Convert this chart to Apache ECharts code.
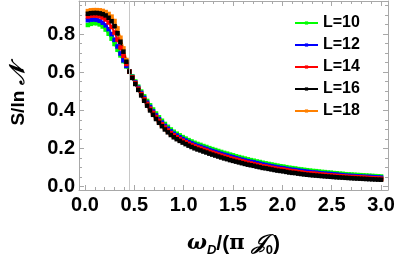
<!DOCTYPE html>
<html><head><meta charset="utf-8">
<script src="https://cdn.jsdelivr.net/npm/echarts@6/dist/echarts.min.js"></script>
<style>html,body{margin:0;padding:0;background:#fff}#c{width:399px;height:262px}</style>
</head><body><div id="c"></div>
<script>
const omega = [0.03,0.06,0.09,0.12,0.15,0.18,0.21,0.24,0.27,0.30,0.33,0.36,0.39,0.42,0.45,
0.48,0.51,0.54,0.57,0.60,0.63,0.66,0.69,0.72,0.75,0.78,0.81,0.84,0.87,0.90,0.93,0.96,0.99,1.02,1.05,
1.08,1.11,1.14,1.17,1.20,1.23,1.26,1.29,1.32,1.35,1.38,1.41,1.44,1.47,1.50,1.53,1.56,1.59,1.62,1.65,
1.68,1.71,1.74,1.77,1.80,1.83,1.86,1.89,1.92,1.95,1.98,2.01,2.04,2.07,2.10,2.13,2.16,2.19,2.22,2.25,
2.28,2.31,2.34,2.37,2.40,2.43,2.46,2.49,2.52,2.55,2.58,2.61,2.64,2.67,2.70,2.73,2.76,2.79,2.82,2.85,
2.88,2.91,2.94,2.97,3.00];
const L10 = [0.848,0.854,0.858,0.857,0.851,0.840,0.824,0.802,0.776,0.748,0.718,0.688,0.658,0.630,0.605,
0.578,0.551,0.524,0.498,0.473,0.449,0.426,0.404,0.383,0.363,
0.345,0.328,0.313,0.299,0.287,0.277,0.268,0.259,0.251,0.243,
0.236,0.229,0.223,0.218,0.212,0.207,0.201,0.196,0.191,0.186,
0.181,0.176,0.172,0.167,0.163,0.158,0.154,0.150,0.146,0.142,
0.138,0.135,0.131,0.128,0.124,0.121,0.118,0.115,0.112,0.109,
0.106,0.104,0.101,0.098,0.096,0.094,0.091,0.089,0.087,0.085,
0.083,0.081,0.080,0.078,0.076,0.075,0.073,0.072,0.070,0.069,
0.067,0.066,0.064,0.063,0.062,0.061,0.060,0.059,0.058,0.057,
0.056,0.055,0.054,0.053,0.052];
const L12 = [0.873,0.876,0.877,0.875,0.870,0.860,0.846,0.826,0.800,0.770,0.735,0.698,0.662,0.633,0.604,
0.575,0.546,0.518,0.491,0.465,0.440,0.417,0.394,0.373,0.353,
0.335,0.318,0.303,0.289,0.277,0.267,0.258,0.249,0.241,0.233,
0.226,0.219,0.213,0.208,0.202,0.197,0.191,0.186,0.181,0.176,
0.171,0.166,0.162,0.157,0.153,0.148,0.144,0.140,0.136,0.132,
0.129,0.126,0.122,0.119,0.115,0.112,0.109,0.106,0.103,0.100,
0.097,0.095,0.092,0.089,0.087,0.086,0.083,0.081,0.079,0.077,
0.075,0.073,0.072,0.070,0.068,0.067,0.066,0.065,0.063,0.062,
0.060,0.059,0.057,0.056,0.055,0.054,0.053,0.052,0.051,0.050,
0.050,0.049,0.048,0.047,0.046];
const L14 = [0.893,0.897,0.898,0.897,0.894,0.887,0.877,0.861,0.838,0.808,0.771,0.729,0.686,0.643,0.603,
0.573,0.543,0.513,0.485,0.458,0.433,0.408,0.386,0.364,0.344,
0.326,0.309,0.294,0.280,0.268,0.258,0.249,0.240,0.232,0.224,
0.217,0.210,0.204,0.199,0.193,0.188,0.182,0.177,0.172,0.167,
0.162,0.157,0.153,0.148,0.144,0.140,0.136,0.132,0.128,0.124,
0.120,0.117,0.113,0.110,0.106,0.104,0.101,0.098,0.095,0.092,
0.090,0.088,0.085,0.082,0.080,0.078,0.075,0.073,0.071,0.069,
0.068,0.067,0.066,0.064,0.062,0.061,0.059,0.058,0.056,0.055,
0.054,0.053,0.051,0.050,0.049,0.049,0.048,0.047,0.046,0.045,
0.044,0.043,0.042,0.041,0.040];
const L16 = [0.907,0.910,0.911,0.911,0.909,0.905,0.898,0.886,0.868,0.842,0.805,0.760,0.708,0.655,0.603,
0.570,0.538,0.507,0.478,0.450,0.424,0.399,0.376,0.354,0.334,
0.316,0.299,0.284,0.270,0.258,0.248,0.239,0.230,0.222,0.214,
0.207,0.200,0.194,0.189,0.183,0.178,0.172,0.167,0.162,0.157,
0.152,0.147,0.143,0.138,0.134,0.130,0.126,0.122,0.118,0.114,
0.111,0.108,0.104,0.101,0.097,0.095,0.092,0.089,0.086,0.083,
0.081,0.079,0.076,0.073,0.071,0.070,0.067,0.065,0.063,0.061,
0.0595,0.058,0.0567,0.0554,0.0541,0.0528,0.0516,0.0504,0.0492,0.048,
0.047,0.046,0.045,0.044,0.043,0.042,0.0412,0.0404,0.0396,0.0388,
0.038,0.0372,0.0364,0.0357,0.035];
const L18 = [0.921,0.925,0.926,0.926,0.925,0.922,0.916,0.906,0.892,0.869,0.830,0.781,0.725,0.664,0.602,
0.572,0.541,0.511,0.483,0.456,0.430,0.406,0.383,0.361,0.341,
0.323,0.306,0.291,0.277,0.265,0.255,0.246,0.237,0.229,0.221,
0.214,0.207,0.201,0.196,0.190,0.185,0.179,0.174,0.169,0.164,
0.159,0.154,0.150,0.145,0.141,0.137,0.133,0.129,0.125,0.121,
0.118,0.115,0.111,0.108,0.104,0.101,0.098,0.095,0.092,0.089,
0.087,0.085,0.082,0.079,0.077,0.076,0.073,0.071,0.069,0.067,
0.066,0.064,0.063,0.061,0.059,0.058,0.057,0.056,0.054,0.053,
0.052,0.051,0.049,0.048,0.047,0.0465,0.046,0.045,0.044,0.043,
0.042,0.041,0.040,0.039,0.038];

const seriesNames = ['L=10','L=12','L=14','L=16','L=18'];
const seriesColors = ['#00ff00','#0000ff','#ff0000','#000000','#ff8000'];
const xMajorTicks = [0,0.5,1,1.5,2,2.5,3];
const xMinorTicks = [0.1,0.2,0.3,0.4,0.6,0.7,0.8,0.9,1.1,1.2,1.3,1.4,1.6,1.7,1.8,1.9,2.1,2.2,2.3,2.4,2.6,2.7,2.8,2.9];
const yMajorTicks = [0,0.2,0.4,0.6,0.8];
const yMinorTicks = [0.05,0.1,0.15,0.25,0.3,0.35,0.45,0.5,0.55,0.65,0.7,0.75,0.85,0.9,0.95];
const refLine = 0.45;
const xRange = [-0.06, 3.07];
const yRange = [-0.019, 0.974];

const frameColor = '#a8a8a8';
const font = 'Liberation Sans';

function xAx(pos, ticks, len, withLabel, withLine) {
  return {
    type:'value', position: pos, min: xRange[0], max: xRange[1],
    axisLine:{show: withLine, onZero:false, lineStyle:{color: frameColor, width:1}},
    axisTick:{show:true, inside:true, length: len, customValues: ticks, lineStyle:{color: frameColor}},
    axisLabel:{show: withLabel, customValues: ticks, margin:5, formatter: v => v.toFixed(1),
      fontFamily: font, fontWeight:'bold', fontSize:20, color:'#000'},
    splitLine:{show:false}
  };
}
function yAx(pos, ticks, len, withLabel, withLine) {
  return {
    type:'value', position: pos, min: yRange[0], max: yRange[1],
    axisLine:{show: withLine, onZero:false, lineStyle:{color: frameColor, width:1}},
    axisTick:{show:true, inside:true, length: len, customValues: ticks, lineStyle:{color: frameColor}},
    axisLabel:{show: withLabel, customValues: ticks, margin:4, formatter: v => v.toFixed(1),
      fontFamily: font, fontWeight:'bold', fontSize:20, color:'#000'},
    splitLine:{show:false}
  };
}

const xAxes = [
  xAx('bottom', xMajorTicks, 5, true, true),
  xAx('bottom', xMinorTicks, 3, false, false),
  xAx('top', xMajorTicks, 5, false, true),
  xAx('top', xMinorTicks, 3, false, false)
];
xAxes[0].name = '{w|ω}{s|D}{t|/(}{p|π }{j|𝒥}{z|0}{t|)}';
xAxes[0].nameLocation = 'middle';
xAxes[0].nameGap = 41;
xAxes[0].nameTextStyle = {
  rich: {
    w:{fontFamily:'DejaVu Serif', fontStyle:'italic', fontWeight:'bold', fontSize:21, lineHeight:26, color:'#000'},
    s:{fontFamily:font, fontStyle:'italic', fontWeight:'bold', fontSize:13, lineHeight:26, verticalAlign:'bottom', color:'#000'},
    z:{fontFamily:font, fontWeight:'bold', fontSize:13, lineHeight:26, verticalAlign:'bottom', color:'#000'},
    t:{fontFamily:font, fontWeight:'bold', fontSize:21, lineHeight:26, color:'#000'},
    p:{fontFamily:'DejaVu Serif', fontWeight:'bold', fontSize:21, lineHeight:26, color:'#000'},
    j:{fontFamily:'DejaVu Serif', fontStyle:'italic', fontWeight:'bold', fontSize:21, lineHeight:26, color:'#000'}
  }
};
const yAxes = [
  yAx('left', yMajorTicks, 5, true, true),
  yAx('left', yMinorTicks, 3, false, false),
  yAx('right', yMajorTicks, 5, false, true),
  yAx('right', yMinorTicks, 3, false, false)
];
yAxes[0].name = '{t|S/ln }{n|𝒩}';
yAxes[0].nameLocation = 'middle';
yAxes[0].nameGap = 50;
yAxes[0].nameTextStyle = {
  rich: {
    t:{fontFamily:font, fontWeight:'bold', fontSize:19, color:'#000'},
    n:{fontFamily:'DejaVu Serif', fontStyle:'italic', fontWeight:'bold', fontSize:21, color:'#000'}
  }
};

const dataSets = [L10, L12, L14, L16, L18];
const drawOrder = [0, 1, 4, 2, 3];
const series = drawOrder.map(i => ({
  name: seriesNames[i],
  type: 'line',
  data: omega.map((x, k) => [x, dataSets[i][k]]),
  symbol: 'rect',
  symbolSize: 4.5,
  showAllSymbol: true,
  lineStyle: {width: 2, color: seriesColors[i]},
  itemStyle: {color: seriesColors[i]},
  emphasis: {disabled: true},
  markLine: i === 0 ? {
    silent: true, symbol: 'none', label: {show: false},
    lineStyle: {color: '#c8c8c8', type: 'solid', width: 1},
    data: [{xAxis: refLine}]
  } : undefined
}));

const chart = echarts.init(document.getElementById('c'), null, {renderer: 'canvas'});
chart.setOption({
  animation: false,
  backgroundColor: '#fff',
  grid: {left: 67, right: 11, top: 1, bottom: 64, containLabel: false},
  xAxis: xAxes,
  yAxis: yAxes,
  legend: {
    data: seriesNames, orient: 'vertical', left: 289, top: 10,
    itemWidth: 23, itemHeight: 4, itemGap: 6,
    textStyle: {fontFamily: font, fontWeight: 'bold', fontSize: 16, color: '#000'}
  },
  series: series
});
</script></body></html>
